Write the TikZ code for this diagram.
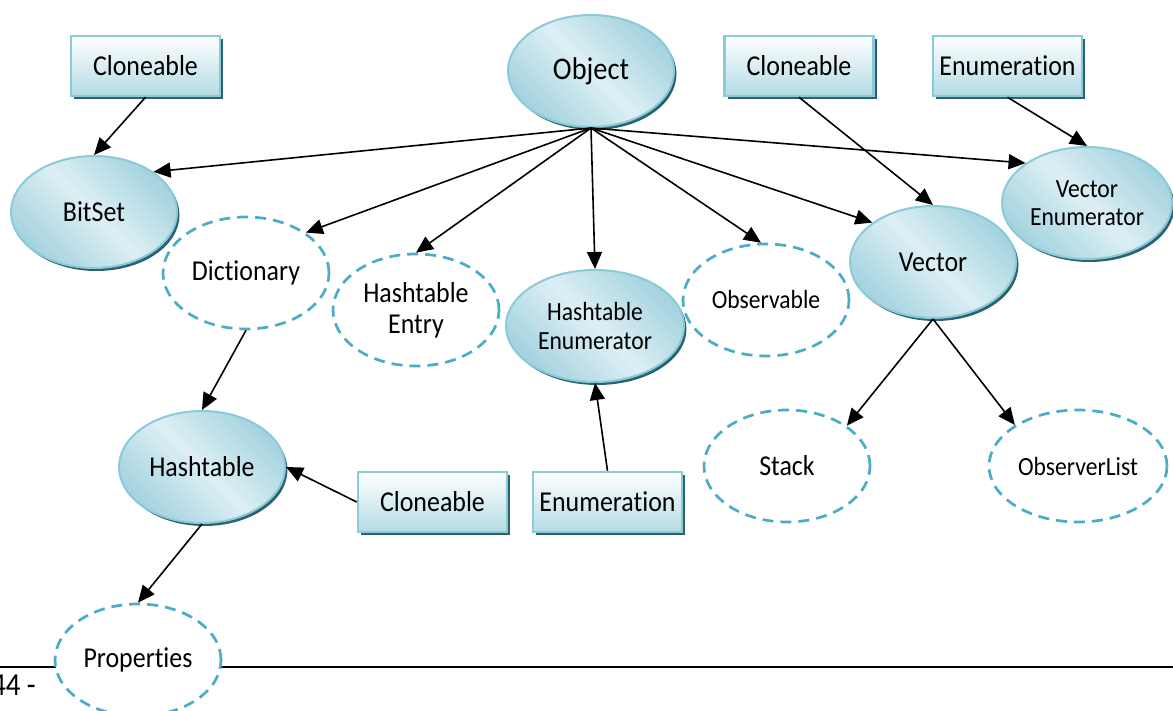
\documentclass[tikz,border=0pt]{standalone}
\usepackage{fontspec}
\setmainfont{Carlito}[Ligatures=NoCommon,FakeStretch=0.9]
\usetikzlibrary{arrows.meta,shapes.geometric,shadows}
\definecolor{ovalborder}{HTML}{8CCAD8}
\definecolor{ovaldark}{HTML}{A3D3DF}
\definecolor{ovallight}{HTML}{DDEFF4}
\definecolor{boxbottom}{HTML}{B3DBE5}
\definecolor{shadowteal}{HTML}{2A6272}
\definecolor{dashblue}{HTML}{4BACC6}
\newcommand{\classfont}{\fontsize{28.8}{31}\selectfont}
\newcommand{\smallclassfont}{\fontsize{26.2}{28.5}\selectfont}
\newcommand{\rootfont}{\fontsize{31.5}{34}\selectfont}
\begin{document}
\begin{tikzpicture}[x=1pt,y=-1pt,
  classnode/.style={ellipse,draw=ovalborder,line width=2pt,minimum width=166pt,minimum height=112pt,
    inner sep=0pt,align=center,font=\classfont,top color=ovaldark,bottom color=ovaldark,
    middle color=ovallight,shading angle=-45,
    drop shadow={shadow xshift=2.5pt,shadow yshift=-3pt,fill=shadowteal,opacity=1}},
  dashnode/.style={ellipse,draw=dashblue,line width=2.7pt,dash pattern=on 11pt off 7pt,fill=white,
    minimum width=166pt,minimum height=112pt,inner sep=0pt,align=center,font=\classfont},
  ifacebox/.style={rectangle,draw=ovalborder,line width=2.5pt,minimum width=149pt,minimum height=60pt,
    inner sep=0pt,font=\classfont,top color=white,bottom color=boxbottom,
    drop shadow={shadow xshift=3pt,shadow yshift=-3pt,fill=shadowteal,opacity=1}},
  arr/.style={line width=1.6pt,-{Triangle[length=17pt,width=15pt]}}]
\useasboundingbox (0,0) rectangle (1173,711);

% footer rule and page number
\draw[line width=1.8pt] (0,667) -- (1173,667);
\node[anchor=base east,inner sep=0pt,font=\fontsize{32}{36}\selectfont] (pagenum) at (36,695) {44 -};

% top row
\node[classnode,font=\rootfont] (object) at (591,71) {Object};
\node[ifacebox] (clone1) at (145.5,66) {Cloneable};
\node[ifacebox] (clone2) at (799,66) {Cloneable};
\node[ifacebox] (enum1) at (1007.5,66) {Enumeration};

% classes under Object
\node[classnode] (bitset) at (94,212) {BitSet};
\node[dashnode] (dict) at (246,273) {Dictionary};
\node[dashnode] (hentry) at (416,310) {Hashtable\\Entry};
\node[classnode,minimum width=178pt,font=\smallclassfont] (henum) at (595,326) {Hashtable\\Enumerator};
\node[dashnode,font=\smallclassfont] (observable) at (766,300) {Observable};
\node[classnode] (vector) at (933,262) {Vector};
\node[classnode,minimum width=170pt,font=\smallclassfont] (venum) at (1087,203) {Vector\\Enumerator};

% bottom row
\node[classnode] (hashtable) at (202,467) {Hashtable};
\node[ifacebox] (clone3) at (432.5,502) {Cloneable};
\node[ifacebox] (enum2) at (607.5,502) {Enumeration};
\node[dashnode] (stack) at (787,466) {Stack};
\node[dashnode,minimum width=178pt,font=\smallclassfont] (obslist) at (1078,466) {ObserverList};
\node[dashnode] (props) at (138,660) {Properties};

% inheritance arrows
\foreach \t in {bitset.34,dict.34,hentry.north,henum.north,observable.95,vector.147,venum.147}
  \draw[arr] (object.south) -- (\t);
\draw[arr] (clone1.south) -- (bitset.north);
\draw[arr] (clone2.south) -- (vector.north);
\draw[arr] (enum1.south) -- (venum.north);
\draw[arr] (dict.south) -- (hashtable.north);
\draw[arr] (hashtable.south) -- (props.north);
\draw[arr] (clone3.west) -- (hashtable.east);
\draw[arr] (enum2.north) -- (henum.south);
\draw[arr] (vector.south) -- (stack.34);
\draw[arr] (vector.south) -- (obslist.147);
\end{tikzpicture}
\end{document}
